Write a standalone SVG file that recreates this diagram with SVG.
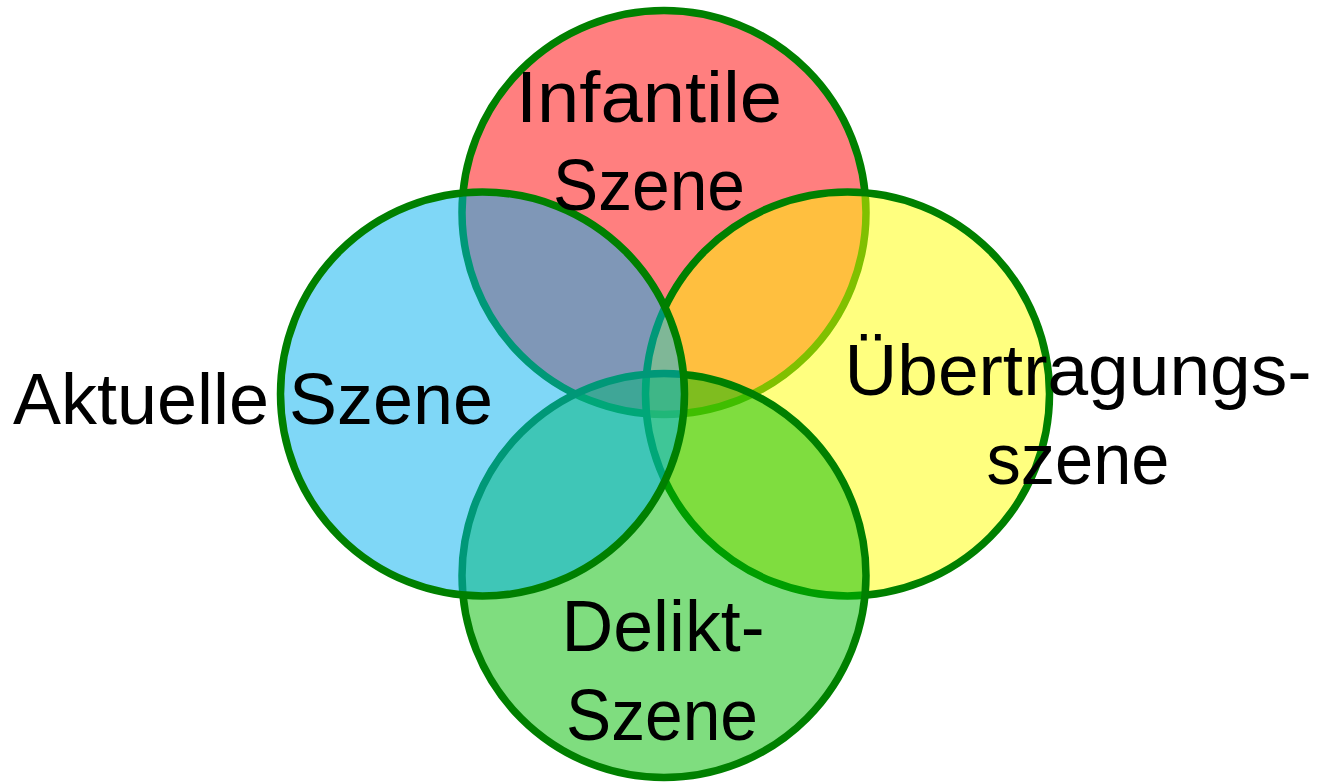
<svg xmlns="http://www.w3.org/2000/svg" width="1319" height="784" viewBox="0 0 1319 784">
<style>
.c{stroke:#008000;stroke-width:7.5;fill-opacity:0.5}
.t{font-family:"Liberation Sans",Arial,sans-serif;font-size:73px;fill:#000;text-anchor:middle}
</style>
<rect width="1319" height="784" fill="#fff"/>
<g id="connectors"></g>
<g id="infantile"><circle class="c" cx="664" cy="212.5" r="202" fill="#ff0000"/></g>
<g id="uebertragung"><circle class="c" cx="847.5" cy="394" r="202" fill="#ffff00"/></g>
<g id="delikt"><circle class="c" cx="664" cy="575.5" r="202" fill="#00bb00"/></g>
<g id="aktuell"><circle class="c" cx="482.5" cy="394" r="202" fill="#00b0f0"/></g>
<g id="labels">
<text class="t" x="649" y="122" textLength="266" lengthAdjust="spacingAndGlyphs">Infantile</text>
<text class="t" x="649" y="210" textLength="192" lengthAdjust="spacingAndGlyphs">Szene</text>
<text class="t" x="253" y="424" textLength="480" lengthAdjust="spacingAndGlyphs">Aktuelle Szene</text>
<text class="t" x="1078" y="395" textLength="467" lengthAdjust="spacingAndGlyphs">Übertragungs-</text>
<text class="t" x="1078" y="484" textLength="183" lengthAdjust="spacingAndGlyphs">szene</text>
<text class="t" x="663" y="651" textLength="203" lengthAdjust="spacingAndGlyphs">Delikt-</text>
<text class="t" x="662" y="740" textLength="192" lengthAdjust="spacingAndGlyphs">Szene</text>
</g>
</svg>
